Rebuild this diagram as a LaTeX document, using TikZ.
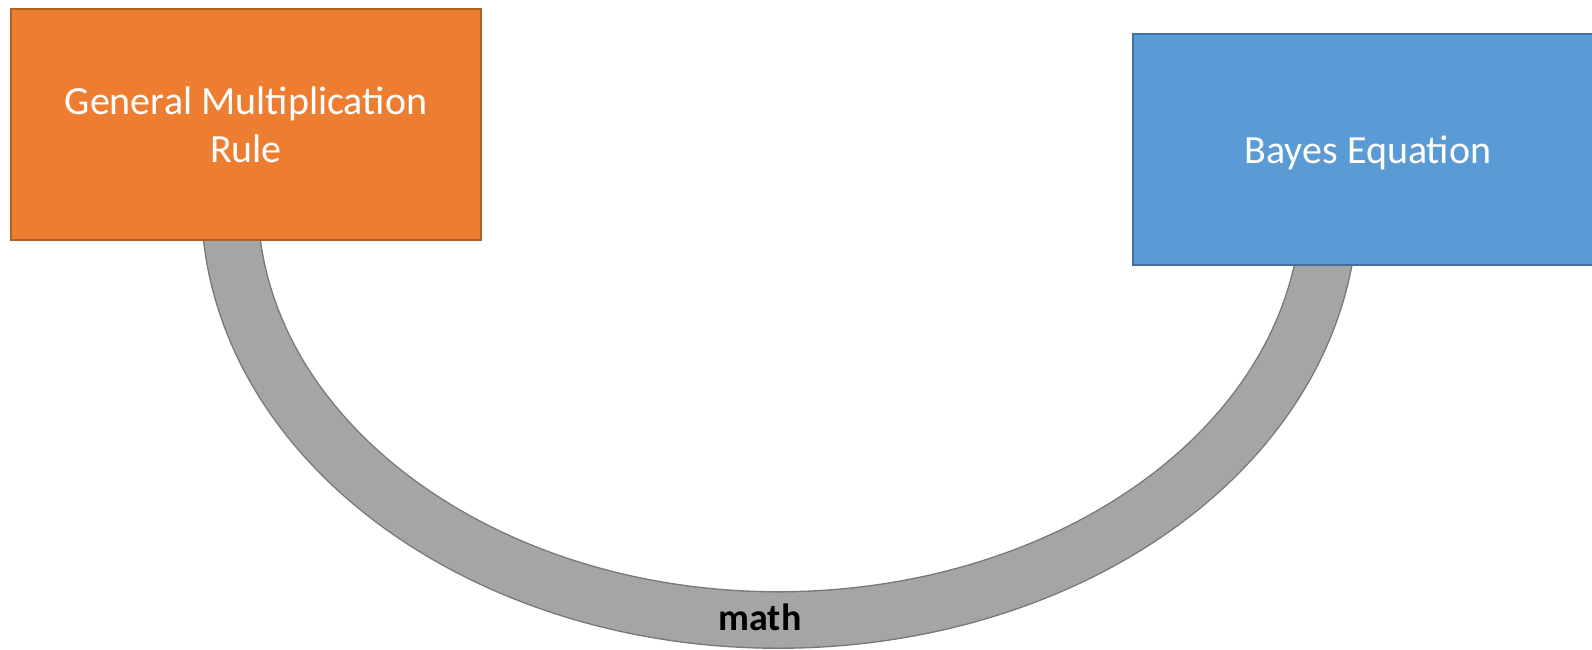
\documentclass[tikz,border=0pt]{standalone}
\usepackage{fontspec}
\setmainfont{Carlito}
\usetikzlibrary{calc,backgrounds}
\definecolor{orangefill}{HTML}{ED7D31}
\definecolor{orangeline}{HTML}{B5601F}
\definecolor{bluefill}{HTML}{5B9BD5}
\definecolor{blueline}{HTML}{41719C}
\definecolor{bandfill}{HTML}{A5A5A5}
\definecolor{bandline}{HTML}{787878}
\tikzset{
  box/.style={rectangle, minimum width=470pt, minimum height=231pt, inner sep=0pt,
    line width=1.5pt, text=white, align=center, font=\fontsize{40}{48}\selectfont},
  band/.style={double=bandfill, double distance=55pt, line width=1.4pt, draw=bandline, line cap=butt, line join=round},
  bandlabel/.style={font=\fontsize{38}{44}\selectfont\bfseries, text=black}
}
\begin{document}
\begin{tikzpicture}[x=1pt,y=-1pt]
\useasboundingbox (0,0) rectangle (1592,649);
\clip (0,0) rectangle (1592,649);
\node[box, fill=orangefill, draw=orangeline] (a) at (246,124.5) {General Multiplication\\Rule};
\node[box, fill=bluefill, draw=blueline, text depth=0pt] (b) at (1368,149.5) {Bayes Equation};
\coordinate (as) at ($(a.south)+(-14,0)$);
\coordinate (bs) at ($(b.south)+(-45,0)$);
\coordinate (low) at (778,620);
\begin{scope}[on background layer]
\draw[band] ($(as)+(-5,-40)$) -- (as) .. controls ($(as)+(26.9,215.4)$) and ($(low)+(-282.4,0)$) .. (low)
  .. controls ($(low)+(271.9,0)$) and ($(bs)+(-42.1,204.4)$) .. (bs) -- ($(bs)+(8.2,-39.2)$);
\end{scope}
\node[bandlabel] (lbl) at (760,617) {math};
\end{tikzpicture}
\end{document}
